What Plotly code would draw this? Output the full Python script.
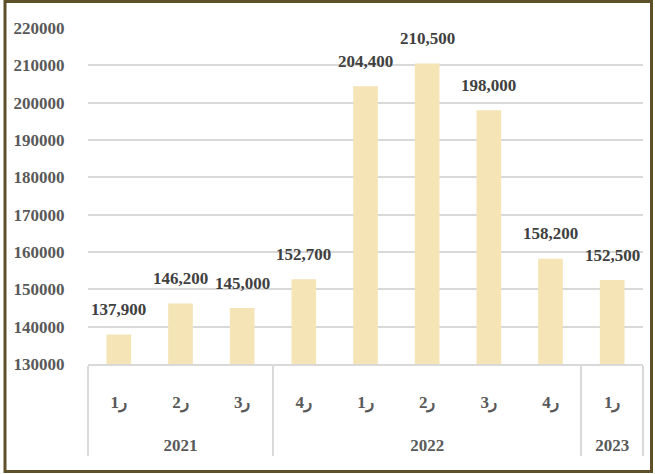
import plotly.graph_objects as go

# data
years = ["2021", "2021", "2021", "2022", "2022", "2022", "2022", "2022", "2023"]
# a trailing zero-width space keeps 2022's quarters distinct so plotly keeps their order
quarters = ["ر1", "ر2", "ر3", "ر4", "ر1\u200b", "ر2\u200b", "ر3\u200b", "ر4\u200b", "ر1"]
values = [137900, 146200, 145000, 152700, 204400, 210500, 198000, 158200, 152500]
y_ticks = [130000, 140000, 150000, 160000, 170000, 180000, 190000, 200000, 210000, 220000]

W, H = 655, 474
ML, MR, MT, MB = 88, 12, 28, 110
PW, PH = W - ML - MR, H - MT - MB

def px_x(p):
    return (p - ML) / PW

def px_y(p):
    return (H - MB - p) / PH

font_family = "Liberation Serif, Times New Roman, serif"

fig = go.Figure()
fig.add_trace(go.Bar(
    x=[["<br>" + y for y in years], ["<br>" + q + "<br> " for q in quarters]],
    y=values,
    marker=dict(color="#F5E4B5", line=dict(width=0)),
    width=0.4,
    hoverinfo="skip",
))

annotations = []
for i, v in enumerate(values):
    annotations.append(dict(
        x=i, y=v, xref="x", yref="y",
        text=f"{v:,}",
        showarrow=False,
        yanchor="middle",
        yshift=25,
        font=dict(family=font_family, size=17, color="#404040", weight="bold"),
    ))

shapes = [dict(
    type="rect", xref="paper", yref="paper",
    x0=px_x(5), x1=px_x(651.5), y0=px_y(471.5), y1=px_y(1.5),
    line=dict(color="#5E5129", width=3), fillcolor="rgba(0,0,0,0)", layer="above",
)]

fig.update_layout(
    width=W, height=H,
    margin=dict(l=ML, r=MR, t=MT, b=MB),
    paper_bgcolor="white", plot_bgcolor="white",
    showlegend=False,
    bargap=0.6,
    annotations=annotations,
    shapes=shapes,
    font=dict(family=font_family, size=17, color="#595959", weight="bold"),
)
fig.update_xaxes(
    type="multicategory",
    showgrid=False,
    showline=True, linecolor="#D9D9D9", linewidth=1.5,
    showdividers=True, dividercolor="#D9D9D9", dividerwidth=1.5,
    ticks="",
    tickfont=dict(family=font_family, size=17, color="#595959", weight="bold"),
)
fig.update_yaxes(
    range=[130000, 220000],
    tickvals=y_ticks,
    tickformat=".0f",
    showgrid=True, gridcolor="#D9D9D9", gridwidth=1.5,
    zeroline=False, showline=False,
    ticks="outside", ticklen=19, tickcolor="rgba(0,0,0,0)",
    tickfont=dict(family=font_family, size=17, color="#595959", weight="bold"),
)

fig.write_html("out.html")
